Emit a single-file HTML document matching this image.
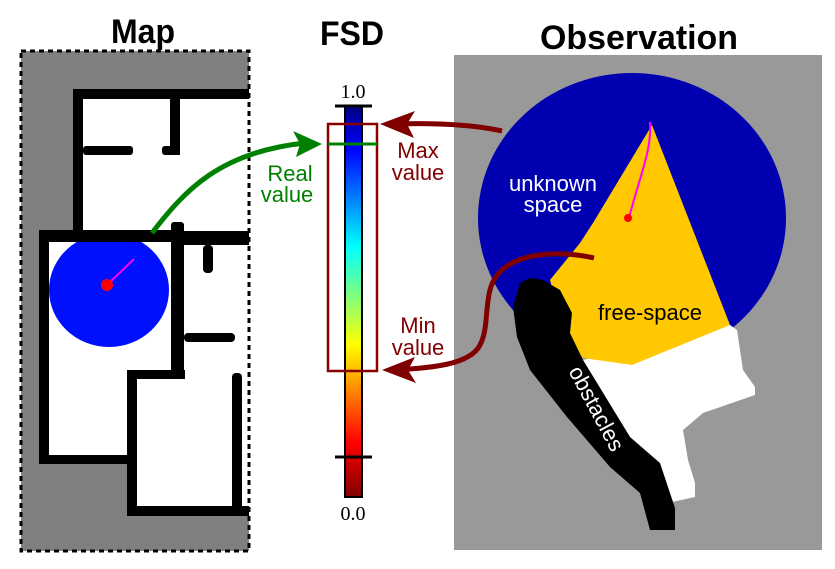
<!DOCTYPE html>
<html><head><meta charset="utf-8"><style>html,body{margin:0;padding:0;background:#fff}svg{display:block}</style></head>
<body>
<svg width="835" height="569" viewBox="0 0 835 569" xmlns="http://www.w3.org/2000/svg" font-family="Liberation Sans, sans-serif">
<defs>
<linearGradient id="jet" x1="0" y1="0" x2="0" y2="1">
<stop offset="0" stop-color="#00007f"/>
<stop offset="0.11" stop-color="#0000ff"/>
<stop offset="0.36" stop-color="#00ffff"/>
<stop offset="0.61" stop-color="#ffff00"/>
<stop offset="0.86" stop-color="#ff0000"/>
<stop offset="1" stop-color="#7f0000"/>
</linearGradient>
<clipPath id="obsclip"><rect x="454" y="55" width="368" height="495"/></clipPath>
</defs>
<!-- titles -->
<text x="143" y="43" font-size="34" font-weight="bold" text-anchor="middle" textLength="64" lengthAdjust="spacingAndGlyphs">Map</text>
<text x="352" y="45" font-size="34" font-weight="bold" text-anchor="middle" textLength="64" lengthAdjust="spacingAndGlyphs">FSD</text>
<text x="639" y="49" font-size="34" font-weight="bold" text-anchor="middle" textLength="198" lengthAdjust="spacingAndGlyphs">Observation</text>

<!-- Map panel -->
<rect x="21" y="51" width="228" height="500" fill="#808080"/>
<polygon points="73,89 249,89 249,516 127,516 127,464 39,464 39,233 73,233" fill="#fff"/>
<ellipse cx="109" cy="290" rx="60" ry="57" fill="#0010ff"/>
<rect x="39" y="230" width="145" height="12" fill="#000"/>
<g fill="#000">
<rect x="73" y="89" width="176" height="10"/>
<rect x="73" y="89" width="10" height="153"/>
<rect x="83" y="146" width="50" height="9" rx="3"/>
<rect x="162" y="146" width="18" height="9" rx="3"/>
<rect x="170" y="98" width="10" height="57"/>
<rect x="39" y="233" width="99" height="9" rx="3"/>
<rect x="39" y="233" width="10" height="231"/>
<rect x="39" y="455" width="94" height="9"/>
<rect x="127" y="370" width="10" height="146"/>
<rect x="127" y="370" width="58" height="9"/>
<rect x="171" y="222" width="13" height="157" rx="3"/>
<rect x="171" y="231" width="78" height="14"/>
<rect x="203" y="245" width="10" height="28" rx="4"/>
<rect x="184" y="333" width="51" height="9" rx="4"/>
<rect x="232" y="373" width="10" height="143" rx="4"/>
<rect x="127" y="506" width="122" height="10"/>
</g>
<line x1="107" y1="285" x2="134" y2="259" stroke="#ff00ff" stroke-width="2"/>
<circle cx="107" cy="285" r="6" fill="#ff0000"/>
<rect x="21" y="51" width="228" height="500" fill="none" stroke="#000" stroke-width="3" stroke-dasharray="5,4"/>

<!-- Observation panel -->
<rect x="454" y="55" width="368" height="495" fill="#999"/>
<ellipse cx="632" cy="218" rx="154" ry="145" fill="#0000b0" clip-path="url(#obsclip)"/>
<polygon points="583,360 730,325 737,330 743,370 755,387 755,395 703,413 683,430 688,460 695,483 695,497 672,502 630,437" fill="#fff"/>
<polygon points="652,125 730,325 632,365 583,358 565,335 550,280 580,243 593,223" fill="#ffc800"/>
<polygon points="530,278 543,280 560,290 572,313 570,333 583,360 630,437 660,463 670,493 675,508 675,530 650,530 640,493 610,467 567,417 530,370 517,337 513,307 520,283" fill="#000"/>
<path d="M650,122 C652,150 640,175 629,218" stroke="#ff00ff" stroke-width="2" fill="none"/>
<circle cx="628" cy="218" r="4" fill="#f00"/>
<text x="553" y="191" font-size="22" fill="#fff" text-anchor="middle">unknown</text>
<text x="553" y="212" font-size="22" fill="#fff" text-anchor="middle">space</text>
<text x="650" y="320" font-size="22" fill="#000" text-anchor="middle">free-space</text>
<text x="0" y="0" font-size="22" fill="#fff" text-anchor="middle" transform="translate(590,412) rotate(62)">obstacles</text>

<!-- colorbar -->
<rect x="345" y="106" width="17" height="391" fill="url(#jet)" stroke="#000" stroke-width="2"/>
<line x1="335" y1="106" x2="372" y2="106" stroke="#000" stroke-width="3"/>
<line x1="335" y1="457" x2="372" y2="457" stroke="#000" stroke-width="3"/>
<text x="353" y="98" font-size="20" font-family="Liberation Serif, serif" text-anchor="middle">1.0</text>
<text x="353" y="520" font-size="20" font-family="Liberation Serif, serif" text-anchor="middle">0.0</text>
<rect x="328" y="124" width="49" height="247" fill="none" stroke="#8b0000" stroke-width="2.5"/>
<line x1="328" y1="144" x2="377" y2="144" stroke="#008000" stroke-width="3"/>

<!-- green arrow -->
<path d="M152,233 C185,190 220,152 305,143" stroke="#008000" stroke-width="5" fill="none"/>
<polygon points="322,144 293,131 300,144 296,157" fill="#008000"/>
<text x="290" y="181" font-size="22" fill="#008000" text-anchor="middle">Real</text>
<text x="287" y="202" font-size="22" fill="#008000" text-anchor="middle">value</text>

<!-- max arrow -->
<path d="M502,131 C470,124 430,123 395,124" stroke="#800000" stroke-width="5" fill="none"/>
<polygon points="380,124 415,111 407,124 414,138" fill="#800000"/>
<text x="418" y="158" font-size="22" fill="#800000" text-anchor="middle">Max</text>
<text x="418" y="180" font-size="22" fill="#800000" text-anchor="middle">value</text>

<!-- min arrow -->
<path d="M594,258 C560,250 500,250 490,290 C485,310 488,330 480,345 C470,365 430,368 395,370" stroke="#800000" stroke-width="5" fill="none"/>
<polygon points="382,370 415,357 408,370 416,383" fill="#800000"/>
<text x="418" y="333" font-size="22" fill="#800000" text-anchor="middle">Min</text>
<text x="418" y="355" font-size="22" fill="#800000" text-anchor="middle">value</text>
</svg>
</body></html>
